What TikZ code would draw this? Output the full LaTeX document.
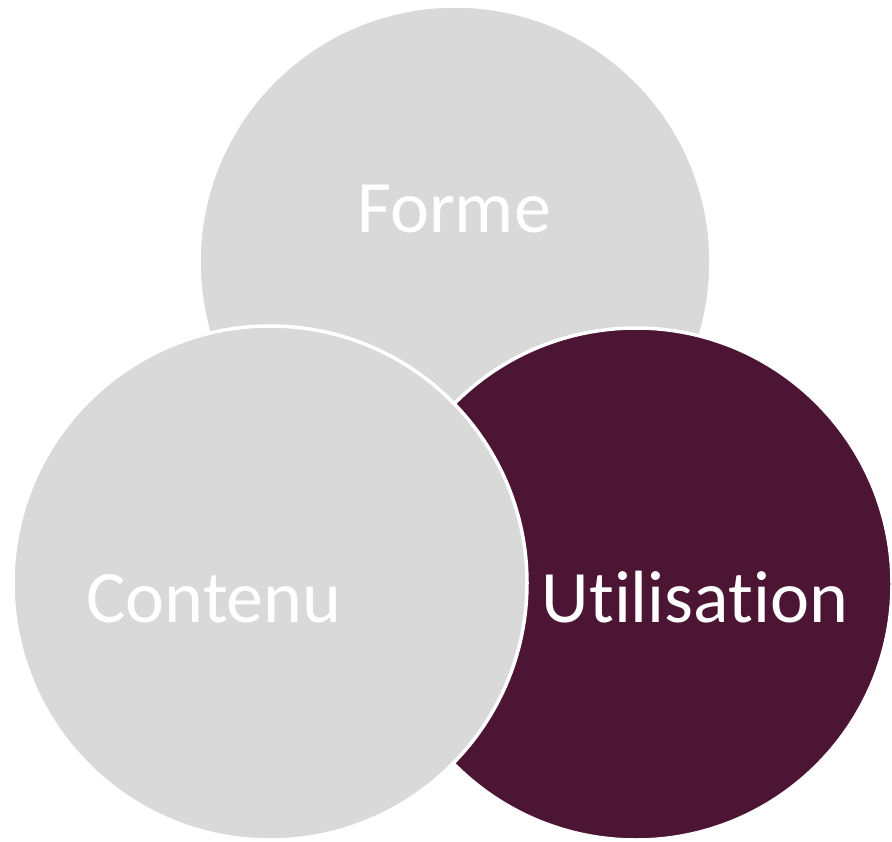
\documentclass[tikz,border=0pt]{standalone}
\usepackage{fontspec}
\setmainfont[RawFeature=-liga]{Carlito}
\definecolor{lightg}{HTML}{D9D9D9}
\definecolor{maroon}{HTML}{4D1534}
\tikzset{
  venn/.style={circle, draw=white, line width=3.5pt, inner sep=0pt},
  lbl/.style={text=white, anchor=base, font=\fontsize{74}{80}\selectfont, inner sep=0pt}
}
\begin{document}
\begin{tikzpicture}[x=1pt,y=-1pt]
\useasboundingbox (0,0) rectangle (892,842);
\node[venn, fill=lightg, minimum size=512pt] (forme) at (455,262) {};
\node[venn, fill=maroon, minimum size=512pt] (util) at (636,584) {};
\node[venn, fill=lightg, minimum size=514pt] (cont) at (270,583) {};
\node[lbl] (tf) at (454,233) {Forme};
\node[lbl] (tc) at (214,622) {Contenu};
\node[lbl] (tu) at (695,622) {Utilisation};
\end{tikzpicture}
\end{document}
